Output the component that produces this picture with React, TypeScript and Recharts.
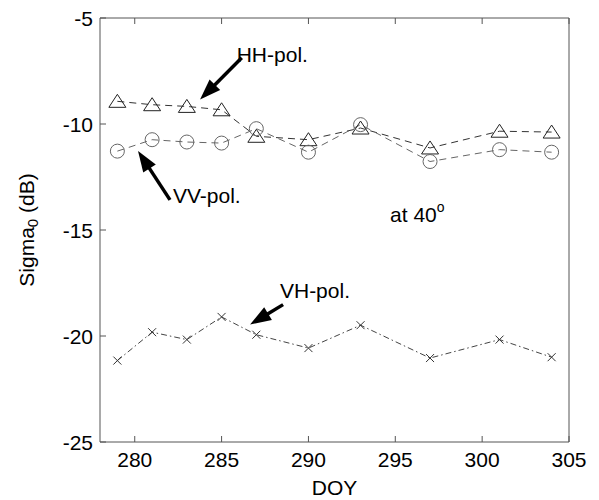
import { Line, LineChart, ReferenceDot, ReferenceLine, XAxis, YAxis } from "recharts";

const days = [279, 281, 283, 285, 287, 290, 293, 297, 301, 304];
const hhPol = [-8.93, -9.09, -9.17, -9.33, -10.58, -10.74, -10.19, -11.13, -10.34, -10.38];
const vvPol = [-11.28, -10.74, -10.85, -10.9, -10.22, -11.33, -10.03, -11.77, -11.21, -11.33];
const vhPol = [-21.16, -19.82, -20.17, -19.1, -19.94, -20.57, -19.49, -21.04, -20.17, -21.0];

const xTicks = [280, 285, 290, 295, 300, 305];
const yTicks = [-25, -20, -15, -10, -5];

const font = "'Liberation Sans', Arial, sans-serif";

const rows = days.map((doy, i) => ({ doy, hh: hhPol[i], vv: vvPol[i], vh: vhPol[i] }));

const BottomTick = ({ x, y, payload }: any) => (
  <g>
    <line x1={x} y1={y} x2={x} y2={y - 6} stroke="#555" />
    <text x={x} y={y + 25} textAnchor="middle" fontSize={21} fill="#000">
      {payload.value}
    </text>
  </g>
);

const TopTick = ({ x, y }: any) => <line x1={x} y1={y} x2={x} y2={y + 6} stroke="#555" />;

const LeftTick = ({ x, y, payload }: any) => (
  <g>
    <line x1={x} y1={y} x2={x + 6} y2={y} stroke="#555" />
    <text x={x - 7} y={y + 7.5} textAnchor="end" fontSize={21} fill="#000">
      {payload.value}
    </text>
  </g>
);

const RightTick = ({ x, y }: any) => <line x1={x} y1={y} x2={x - 6} y2={y} stroke="#555" />;

const Triangle = ({ cx, cy, index }: any) => (
  <path
    key={`tri-${index}`}
    d={`M${cx},${cy - 7} L${cx + 8.5},${cy + 6} L${cx - 8.5},${cy + 6} Z`}
    fill="none"
    stroke="#222"
    strokeWidth={1}
  />
);

const Circle = ({ cx, cy, index }: any) => (
  <circle key={`cir-${index}`} cx={cx} cy={cy} r={7} fill="none" stroke="#666" strokeWidth={1} />
);

const Cross = ({ cx, cy, index }: any) => (
  <path
    key={`x-${index}`}
    d={`M${cx - 4},${cy - 4} L${cx + 4},${cy + 4} M${cx - 4},${cy + 4} L${cx + 4},${cy - 4}`}
    stroke="#333"
    strokeWidth={1}
  />
);

const Arrow = ({ x1, y1, x2, y2 }: any) => {
  const dx = x2 - x1;
  const dy = y2 - y1;
  const len = Math.hypot(dx, dy) || 1;
  const ux = dx / len;
  const uy = dy / len;
  const head = 21;
  const half = 7.5;
  const bx = x2 - ux * head;
  const by = y2 - uy * head;
  const pts = `${x2},${y2} ${bx - uy * half},${by + ux * half} ${bx + uy * half},${by - ux * half}`;
  return (
    <g>
      <line x1={x1} y1={y1} x2={bx + ux * 2} y2={by + uy * 2} stroke="#000" strokeWidth={3.5} />
      <polygon points={pts} fill="#000" />
    </g>
  );
};

const note = (text: string, sup?: string) => ({ cx, cy }: any) => (
  <text x={cx} y={cy + 7.5} fontSize={21} fill="#000" fontFamily={font}>
    {text}
    {sup ? (
      <tspan fontSize={14} dy={-10}>
        {sup}
      </tspan>
    ) : null}
  </text>
);

export default function App() {
  return (
    <div style={{ position: "absolute", left: 0, top: 0, background: "#fff" }}>
      <LineChart
        width={599}
        height={500}
        data={rows}
        margin={{ top: 8, right: 20, bottom: 28, left: 40 }}
        style={{ fontFamily: font }}
      >
        <XAxis
          dataKey="doy"
          type="number"
          domain={[278, 305]}
          ticks={xTicks}
          interval={0}
          height={30}
          tickSize={0}
          tickMargin={0}
          tickLine={false}
          axisLine={{ stroke: "#555" }}
          tick={BottomTick}
          label={{
            content: ({ viewBox }: any) => (
              <text
                x={viewBox.x + viewBox.width / 2}
                y={viewBox.y + 53}
                textAnchor="middle"
                fontSize={21}
                fill="#000"
                fontFamily={font}
              >
                DOY
              </text>
            ),
          }}
        />
        <XAxis
          xAxisId="top"
          orientation="top"
          dataKey="doy"
          type="number"
          domain={[278, 305]}
          ticks={xTicks}
          interval={0}
          height={10}
          tickSize={0}
          tickMargin={0}
          tickLine={false}
          axisLine={{ stroke: "#555" }}
          tick={TopTick}
        />
        <YAxis
          type="number"
          domain={[-25, -5]}
          ticks={yTicks}
          interval={0}
          width={60}
          tickSize={0}
          tickMargin={0}
          tickLine={false}
          axisLine={{ stroke: "#555" }}
          tick={LeftTick}
          label={{
            content: ({ viewBox }: any) => {
              const cx = viewBox.x - 14;
              const cy = viewBox.y + viewBox.height / 2;
              return (
                <text
                  x={cx}
                  y={cy}
                  transform={`rotate(-90, ${cx}, ${cy})`}
                  textAnchor="middle"
                  dominantBaseline="central"
                  fontSize={21}
                  fill="#000"
                  fontFamily={font}
                >
                  Sigma
                  <tspan fontSize={15} dy={6}>
                    0
                  </tspan>
                  <tspan dy={-6}> (dB)</tspan>
                </text>
              );
            },
          }}
        />
        <YAxis
          yAxisId="right"
          orientation="right"
          type="number"
          domain={[-25, -5]}
          ticks={yTicks}
          interval={0}
          width={10}
          tickSize={0}
          tickMargin={0}
          tickLine={false}
          axisLine={{ stroke: "#555" }}
          tick={RightTick}
        />
        <Line
          dataKey="hh"
          stroke="#333"
          strokeWidth={1}
          strokeDasharray="7 5"
          dot={Triangle}
          activeDot={false}
          isAnimationActive={false}
        />
        <Line
          dataKey="vv"
          stroke="#666"
          strokeWidth={1}
          strokeDasharray="7 5"
          dot={Circle}
          activeDot={false}
          isAnimationActive={false}
        />
        <Line
          dataKey="vh"
          stroke="#444"
          strokeWidth={1}
          strokeDasharray="6 3 1.5 3"
          dot={Cross}
          activeDot={false}
          isAnimationActive={false}
        />
        <ReferenceLine
          segment={[
            { x: 286.16, y: -6.88 },
            { x: 283.76, y: -8.85 },
          ]}
          ifOverflow="visible"
          shape={Arrow}
        />
        <ReferenceLine
          segment={[
            { x: 282.03, y: -13.58 },
            { x: 280.19, y: -11.27 },
          ]}
          ifOverflow="visible"
          shape={Arrow}
        />
        <ReferenceLine
          segment={[
            { x: 288.54, y: -18.52 },
            { x: 286.64, y: -19.46 },
          ]}
          ifOverflow="visible"
          shape={Arrow}
        />
        <ReferenceDot x={285.87} y={-6.74} ifOverflow="visible" shape={note("HH-pol.")} />
        <ReferenceDot x={282.2} y={-13.35} ifOverflow="visible" shape={note("VV-pol.")} />
        <ReferenceDot x={288.36} y={-17.87} ifOverflow="visible" shape={note("VH-pol.")} />
        <ReferenceDot x={294.7} y={-14.29} ifOverflow="visible" shape={note("at 40", "o")} />
      </LineChart>
    </div>
  );
}
